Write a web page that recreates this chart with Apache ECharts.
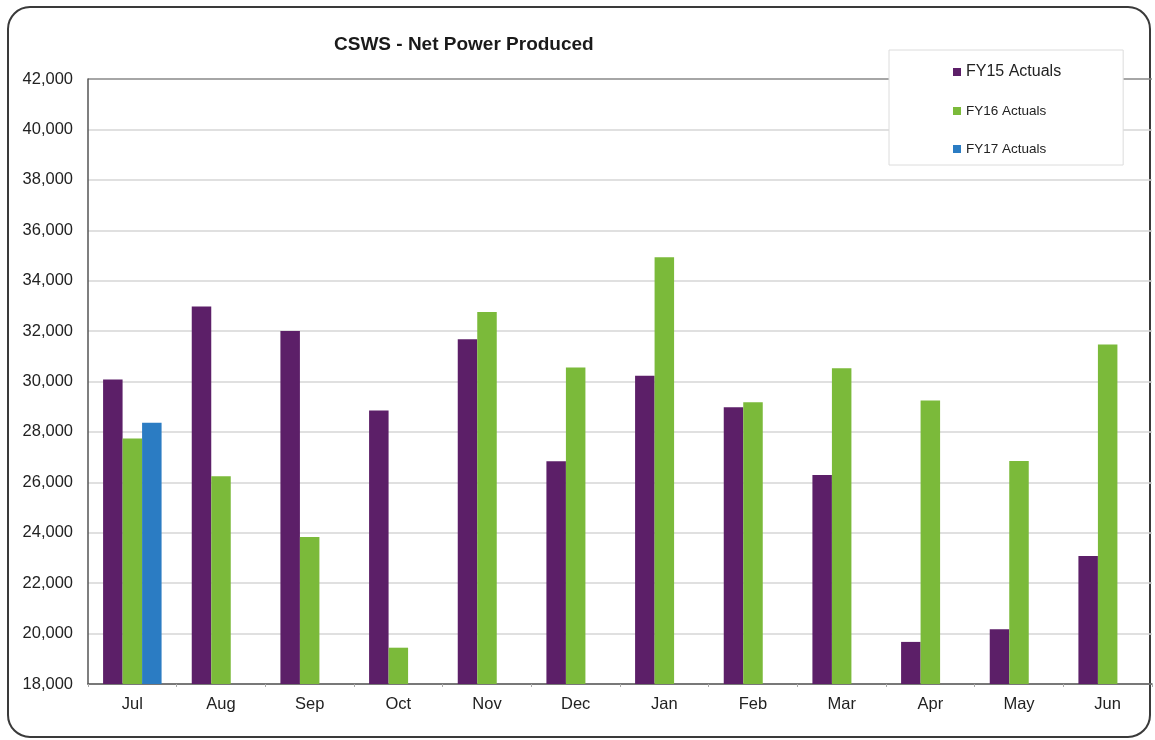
<!DOCTYPE html>
<html>
<head>
<meta charset="utf-8">
<title>CSWS - Net Power Produced</title>
<script src="https://cdn.jsdelivr.net/npm/echarts@6/dist/echarts.min.js"></script>
<style>
  html, body { margin: 0; padding: 0; background: #fff; }
  #chart { width: 1155px; height: 740px; }
</style>
</head>
<body>
<div id="chart"></div>
<script>
// data
const months = ['Jul', 'Aug', 'Sep', 'Oct', 'Nov', 'Dec', 'Jan', 'Feb', 'Mar', 'Apr', 'May', 'Jun']
const fy15 = [30080, 32980, 32000, 28850, 31680, 26840, 30230, 28980, 26290, 19670, 20170, 23080]
const fy16 = [27740, 26240, 23830, 19440, 32760, 30560, 34930, 29180, 30530, 29250, 26850, 31470]
const fy17 = [28360, null, null, null, null, null, null, null, null, null, null, null]
const yTicks = { min: 18000, max: 42000, step: 2000 }

const fontFamily = '"Liberation Sans", Arial, sans-serif'

const chart = echarts.init(document.getElementById('chart'))

function barSeries(name, data, color) {
  return {
    name: name,
    type: 'bar',
    data: data,
    barWidth: 19.5,
    barGap: '0%',
    itemStyle: { color: color },
    animation: false
  }
}

chart.setOption({
  textStyle: { fontFamily: fontFamily },
  graphic: [{
    type: 'rect',
    shape: { x: 8, y: 7, width: 1142, height: 730, r: 22 },
    style: { fill: 'none', stroke: '#3a3a3a', lineWidth: 2 },
    z: -1
  }],
  title: {
    text: 'CSWS - Net Power Produced',
    left: 329,
    top: 30,
    textStyle: { fontFamily: fontFamily, fontSize: 19, fontWeight: 'bold', color: '#1a1a1a' }
  },
  legend: {
    orient: 'vertical',
    left: 889,
    top: 50,
    padding: [14, 62, 9, 64],
    itemGap: 24,
    itemWidth: 8,
    itemHeight: 8,
    icon: 'rect',
    backgroundColor: '#fff',
    borderColor: '#dcdcdc',
    borderWidth: 1,
    formatter: name => name === 'FY15 Actuals' ? '{big|' + name + '}' : '{small|' + name + '}',
    textStyle: {
      fontFamily: fontFamily,
      color: '#222',
      rich: {
        big: { fontSize: 16, color: '#222', fontFamily: fontFamily },
        small: { fontSize: 13.5, color: '#222', fontFamily: fontFamily }
      }
    },
    data: ['FY15 Actuals', 'FY16 Actuals', 'FY17 Actuals'],
    z: 10
  },
  grid: { left: 88, right: 3, top: 79, bottom: 56, containLabel: false },
  xAxis: {
    type: 'category',
    data: months,
    axisLine: { lineStyle: { color: '#555', width: 1.5 } },
    axisTick: { show: true, length: 3, lineStyle: { color: '#aaa' } },
    axisLabel: { fontSize: 16.5, color: '#222', margin: 12, fontFamily: fontFamily }
  },
  yAxis: {
    type: 'value',
    min: yTicks.min,
    max: yTicks.max,
    interval: yTicks.step,
    axisLine: { show: true, lineStyle: { color: '#555', width: 1.5 } },
    axisTick: { show: false },
    axisLabel: {
      fontSize: 16.5,
      color: '#222',
      margin: 15,
      fontFamily: fontFamily,
      formatter: v => v.toLocaleString('en-US')
    },
    splitLine: {
      lineStyle: {
        color: ['#d6d6d6', '#d6d6d6', '#d6d6d6', '#d6d6d6', '#d6d6d6', '#d6d6d6',
                '#d6d6d6', '#d6d6d6', '#d6d6d6', '#d6d6d6', '#d6d6d6', '#d6d6d6', '#888'],
        width: 1.5
      }
    }
  },
  series: [
    barSeries('FY15 Actuals', fy15, '#5c1f68'),
    barSeries('FY16 Actuals', fy16, '#7bba3a'),
    barSeries('FY17 Actuals', fy17, '#2b7cc3')
  ]
})
</script>
</body>
</html>
